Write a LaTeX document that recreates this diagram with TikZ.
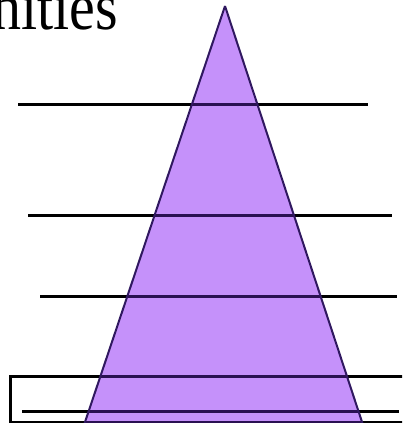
\documentclass[tikz,border=0pt]{standalone}
\usepackage{fontspec}
\setmainfont{Liberation Serif}
\definecolor{trifill}{RGB}{197,145,250}
\definecolor{triedge}{RGB}{48,24,96}
\definecolor{lineinside}{RGB}{42,16,82}
\begin{document}
\begin{tikzpicture}[x=1pt,y=-1pt,
  bar/.style={line width=3pt},
  tri/.style={fill=trifill,draw=triedge,line width=1.5pt,line join=miter}]
\useasboundingbox (0,0) rectangle (402,423);
\clip (0,0) rectangle (402,423);
% title
\node[anchor=base east,inner sep=0pt,yscale=1.15,transform shape,font=\fontsize{58}{60}\selectfont] (title) at (118,29) {Communities};
% level lines and box
\coordinate (a1) at (18,104);  \coordinate (b1) at (368,104);
\coordinate (a2) at (28,215);  \coordinate (b2) at (392,215);
\coordinate (a3) at (40,296);  \coordinate (b3) at (397,296);
\coordinate (a4) at (22,411);  \coordinate (b4) at (399,411);
\coordinate (apex) at (225,6);
\coordinate (bl) at (83,428);
\coordinate (br) at (364,428);
\draw[bar] (a1) -- (b1);
\draw[bar] (a2) -- (b2);
\draw[bar] (a3) -- (b3);
\draw[bar] (a4) -- (b4);
\draw[bar] (10,376) rectangle (412,422);
% pyramid
\fill[trifill] (apex) -- (bl) -- (br) -- cycle;
\begin{scope}
  \clip (apex) -- (bl) -- (br) -- cycle;
  \draw[bar,lineinside] (a1) -- (b1);
  \draw[bar,lineinside] (a2) -- (b2);
  \draw[bar,lineinside] (a3) -- (b3);
  \draw[bar,lineinside] (a4) -- (b4);
  \draw[bar,lineinside] (10,376) rectangle (412,422);
\end{scope}
\draw[draw=triedge,line width=2pt] (apex) -- (bl) (apex) -- (br);
\end{tikzpicture}
\end{document}
